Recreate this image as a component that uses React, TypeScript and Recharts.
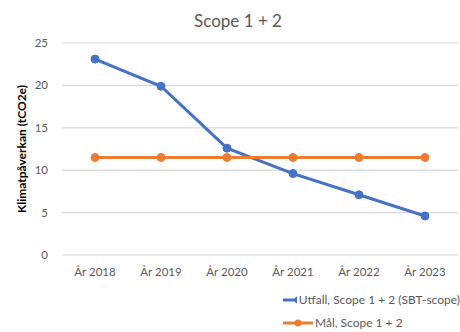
import { CartesianGrid, Legend, Line, LineChart, XAxis, YAxis } from 'recharts';

const years = ['År 2018', 'År 2019', 'År 2020', 'År 2021', 'År 2022', 'År 2023'];
const utfall = [23.1, 19.9, 12.6, 9.6, 7.1, 4.6];
const mal = [11.5, 11.5, 11.5, 11.5, 11.5, 11.5];
const yTicks = [0, 5, 10, 15, 20, 25];

const BLUE = '#4472C4';
const ORANGE = '#ED7D31';
const FONT = 'Lato, "Open Sans", sans-serif';

const data = years.map((year, i) => ({ year, utfall: utfall[i], mal: mal[i] }));

const legendItems = [
  { label: 'Utfall, Scope 1 + 2 (SBT-scope)', color: BLUE },
  { label: 'Mål, Scope 1 + 2', color: ORANGE },
];

function LegendBox() {
  return (
    <div
      style={{
        paddingLeft: 283,
        paddingTop: 2,
        height: 44,
        fontFamily: FONT,
        fontSize: 12,
        color: '#595959',
        whiteSpace: 'nowrap',
      }}
    >
      {legendItems.map((it) => (
        <div key={it.label} style={{ display: 'flex', alignItems: 'center', height: 23 }}>
          <svg width={30} height={10} style={{ marginRight: 2 }}>
            <line x1={0} y1={5} x2={30} y2={5} stroke={it.color} strokeWidth={3} />
            <circle cx={15} cy={5} r={3.5} fill={it.color} />
          </svg>
          <span>{it.label}</span>
        </div>
      ))}
    </div>
  );
}

export default function App() {
  return (
    <div style={{ position: 'fixed', left: 0, top: 0, width: 460, height: 332, background: '#fff' }}>
      <div
        style={{
          position: 'absolute',
          top: 10,
          left: 0,
          width: 476,
          textAlign: 'center',
          fontFamily: FONT,
          fontSize: 17,
          color: '#595959',
        }}
      >
        Scope 1 + 2
      </div>
      <LineChart width={460} height={332} data={data} margin={{ top: 43, right: 2, left: 22, bottom: 0 }}>
        <CartesianGrid vertical={false} stroke="#d9d9d9" strokeWidth={1.2} />
        <XAxis
          dataKey="year"
          axisLine={false}
          tickLine={false}
          height={31}
          tickMargin={7}
          padding={{ left: 33, right: 33 }}
          tick={{ fill: '#595959', fontSize: 11.5, fontFamily: FONT }}
        />
        <YAxis
          domain={[0, 25]}
          ticks={yTicks}
          width={40}
          axisLine={false}
          tickLine={false}
          tickMargin={8}
          tick={{ fill: '#595959', fontSize: 11.5, fontFamily: FONT }}
          label={{
            value: 'Klimatpåverkan (tCO2e)',
            angle: -90,
            position: 'left',
            offset: 0,
            style: { fill: '#000', fontSize: 12, fontWeight: 700, fontFamily: FONT, textAnchor: 'middle' },
          }}
        />
        <Legend
          verticalAlign="bottom"
          wrapperStyle={{ left: 0, width: 460 }}
          content={() => <LegendBox />}
        />
        <Line
          dataKey="utfall"
          stroke={BLUE}
          strokeWidth={3}
          dot={{ r: 4, fill: BLUE, stroke: BLUE, strokeWidth: 1 }}
          isAnimationActive={false}
        />
        <Line
          dataKey="mal"
          stroke={ORANGE}
          strokeWidth={3}
          dot={{ r: 4, fill: ORANGE, stroke: ORANGE, strokeWidth: 1 }}
          isAnimationActive={false}
        />
      </LineChart>
    </div>
  );
}
